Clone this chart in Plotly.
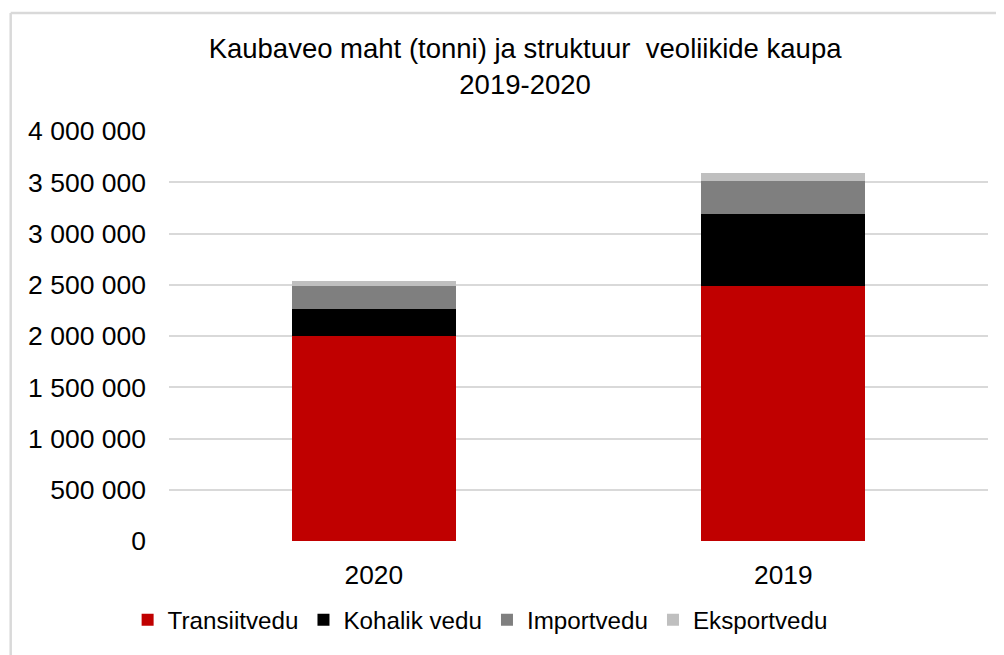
import plotly.graph_objects as go

years = ["2020", "2019"]
transiitvedu = [2000000, 2488000]
kohalik_vedu = [259000, 699000]
importvedu = [229000, 328000]
eksportvedu = [49000, 72000]

series = [
    ("Transiitvedu", transiitvedu, "#c00000"),
    ("Kohalik vedu", kohalik_vedu, "#000000"),
    ("Importvedu", importvedu, "#7f7f7f"),
    ("Eksportvedu", eksportvedu, "#bfbfbf"),
]

FONT = "Liberation Sans, Arial, sans-serif"

fig = go.Figure()
for name, vals, col in series:
    fig.add_trace(go.Bar(x=years, y=vals, name=name,
                         marker=dict(color=col, line=dict(width=0)),
                         width=0.4))

OFF = 8  # page body margin
W, H = 1004 - OFF, 655 - OFF
L = 168.5 - OFF
T = 131 - OFF
R = W - (988.5 - OFF)
B = H - (541 - OFF)
pw = W - L - R
ph = H - T - B

def px2x(px):
    return (px - OFF - L) / pw

def px2y(py):
    return (H - B - (py - OFF)) / ph

fig.update_layout(
    width=W, height=H,
    margin=dict(l=L, r=R, t=T, b=B, autoexpand=False),
    paper_bgcolor="white", plot_bgcolor="white",
    barmode="stack",
    separators=", ",
    font=dict(family=FONT, size=24, color="#000000"),
    title=dict(
        text="Kaubaveo maht (tonni) ja struktuur\u00a0 veoliikide kaupa<br>2019-2020",
        font=dict(family=FONT, size=27.5, color="#000000"),
        x=px2x(525), xref="paper", xanchor="center",
        y=1 - 50 / H, yref="container", yanchor="middle",
    ),
    xaxis=dict(showgrid=False, showline=False, ticks="",
               tickfont=dict(size=26.3), ticklabelstandoff=16),
    yaxis=dict(range=[0, 4000000], dtick=500000, tickformat=",d",
               showgrid=True, gridcolor="#d9d9d9", gridwidth=1.5,
               zeroline=False, showline=False, ticks="",
               tickfont=dict(size=26.5), ticklabelstandoff=22),
    legend=dict(orientation="h", x=px2x(480), xanchor="center",
                y=px2y(620), yanchor="middle",
                font=dict(size=24.2), itemwidth=30, traceorder="normal",
                bgcolor="rgba(0,0,0,0)"),
    showlegend=True,
    shapes=[
        dict(type="line", xref="paper", yref="paper",
             x0=px2x(10), x1=px2x(10), y0=px2y(700), y1=px2y(13),
             line=dict(color="#d9d9d9", width=2.5)),
        dict(type="line", xref="paper", yref="paper",
             x0=px2x(10), x1=px2x(1050), y0=px2y(13), y1=px2y(13),
             line=dict(color="#d9d9d9", width=2.5)),
    ],
)

fig.write_html("out.html")
